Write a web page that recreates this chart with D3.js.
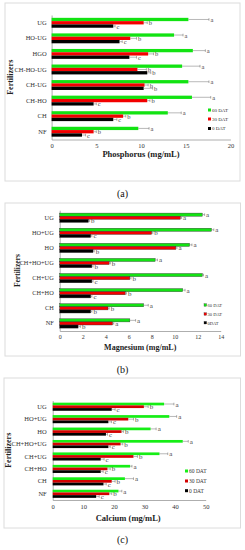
<!DOCTYPE html>
<html><head><meta charset="utf-8">
<script src="https://cdn.jsdelivr.net/npm/d3@7"></script>
<style>
body{margin:0;background:#fff;}
svg{display:block;}
text{font-family:"Liberation Serif","DejaVu Serif",serif;}
</style></head>
<body><svg id="c" width="245" height="550"></svg>
<script>
// ---------- DATA ----------
const categoriesA = ["NF","CH","CH-HO","CH-UG","CH-HO-UG","HGO","HO-UG","UG"];
const categoriesBC = ["NF","CH","CH+HO","CH+UG","CH+HO+UG","HO","HO+UG","UG"];
const legendA = ["60 DAT","30 DAT","0 DAT"];
const legendB = ["60 DAT","30 DAT","0DAT"];
const legendC = ["60 DAT","30 DAT","0 DAT"];

const phos60 = [9.7,13.0,15.7,15.3,14.6,15.8,13.7,15.3];
const phos60Err = [1.2,1.5,2.1,2.3,2.0,1.4,1.0,2.3];
const phos30 = [4.7,8.0,10.7,10.4,9.6,10.8,8.8,10.3];
const phos30Err = [0.3,0.3,0.3,0.4,1.0,0.6,0.7,0.4];
const phos0 = [3.4,6.9,4.7,10.3,10.7,8.7,7.6,6.9];
const phos0Err = [0.4,0.4,0.3,1.0,0.4,0.8,0.3,0.2];
const phosLetters60 = ["a","a","a","a","a","a","a","a"];
const phosLetters30 = ["b","b","b","b","b","b","b","b"];
const phosLetters0 = ["c","c","c","b","b","c","c","c"];
const phosTicks = [0,5,10,15,20];

const mg60 = [6.1,7.3,10.7,12.4,8.3,11.3,13.2,12.4];
const mg60Err = [0.5,0.4,0.2,0.1,0.2,0.2,0.2,0.2];
const mg30 = [4.6,4.2,5.7,6.1,4.3,10.1,8.0,10.5];
const mg30Err = [0.1,0.1,0.1,0.1,0.1,0.1,0.1,0.1];
const mg0 = [1.6,2.7,2.7,2.8,2.8,2.9,2.7,2.5];
const mg0Err = [0.2,0.1,0.1,0.1,0.1,0.1,0.1,0.1];
const mgLetters60 = ["a","a","a","a","a","a","a","a"];
const mgLetters30 = ["a","b","b","b","b","a","b","a"];
const mgLetters0 = ["b","b","c","c","b","b","c","b"];
const mgTicks = [0,2,4,6,8,10,12,14];

const ca60 = [21.5,23.6,25.3,34.9,42.5,32.0,38.1,36.4];
const ca60Err = [1.1,2.8,0.6,2.7,1.8,1.8,2.4,3.2];
const ca30 = [18.5,19.3,17.9,26.4,22.2,22.5,24.7,29.8];
const ca30Err = [0.8,1.1,0.9,1.3,0.7,0.6,1.7,1.4];
const ca0 = [14.2,16.6,15.7,15.7,18.2,17.4,18.2,19.3];
const ca0Err = [1.0,0.9,0.8,1.1,0.6,0.5,1.0,1.1];
const caLetters60 = ["a","a","a","a","a","a","a","a"];
const caLetters30 = ["b","b","b","b","b","b","b","b"];
const caLetters0 = ["c","c","c","c","c","c","c","c"];
const caTicks = [0,10,20,30,40,50];

const colors = ["#12e312","#f20000","#000000"];
const colorsC = ["#16ee16","#d40000","#000000"];

// ---------- DRAW ----------
const svg = d3.select("#c");

function panel(o){
  const g = svg.append("g");
  g.append("rect").attr("x",o.box[0]).attr("y",o.box[1]).attr("width",o.box[2]-o.box[0]).attr("height",o.box[3]-o.box[1])
    .attr("fill","#fff").attr("stroke","#dcdcdc").attr("stroke-width",1);
  const x = d3.scaleLinear().domain([0,o.max]).range([o.x0,o.x1]);
  const y = d3.scaleBand().domain(o.cats.slice().reverse()).range([o.yTop,o.yBot]);
  const inner = d3.scaleBand().domain([0,1,2]).range([y.bandwidth()/2 - o.barH*1.5, y.bandwidth()/2 + o.barH*1.5]);
  const series = [
    {v:o.s60,e:o.e60,l:o.l60},
    {v:o.s30,e:o.e30,l:o.l30},
    {v:o.s0,e:o.e0,l:o.l0}
  ];
  const xa = d3.axisBottom(x).tickValues(o.ticks).tickSize(0).tickPadding(4);
  const gx = g.append("g").attr("transform",`translate(0,${o.yBot})`).call(xa);
  gx.select(".domain").attr("stroke","#999").attr("stroke-width",0.8);
  gx.selectAll("text").attr("font-size",o.tickFs).attr("fill","#333").attr("font-family","Liberation Serif, serif");
  const ya = d3.axisLeft(y).tickSize(0).tickPadding(o.catPad);
  const gy = g.append("g").attr("transform",`translate(${o.x0},0)`).call(ya);
  gy.select(".domain").attr("stroke","#999").attr("stroke-width",0.8);
  gy.selectAll("text").attr("font-size",o.catFs).attr("fill","#333").attr("font-family","Liberation Serif, serif");
  series.forEach((s,si)=>{
    const sg = g.append("g");
    sg.selectAll("rect").data(o.cats).join("rect")
      .attr("x",x(0))
      .attr("y",(c)=>y(c)+inner(si))
      .attr("width",(c,i)=>x(s.v[i])-x(0))
      .attr("height",inner.bandwidth())
      .attr("fill",o.colors[si])
      .attr("stroke",o.stroke ? "#333" : "none")
      .attr("stroke-width",o.stroke?0.4:0);
    sg.selectAll("line.e").data(o.cats).join("line").attr("class","e")
      .attr("x1",(c,i)=>x(s.v[i])).attr("x2",(c,i)=>x(s.v[i]+s.e[i]))
      .attr("y1",(c)=>y(c)+inner(si)+inner.bandwidth()/2)
      .attr("y2",(c)=>y(c)+inner(si)+inner.bandwidth()/2)
      .attr("stroke","#888").attr("stroke-width",0.6);
    sg.selectAll("line.c").data(o.cats).join("line").attr("class","c")
      .attr("x1",(c,i)=>x(s.v[i]+s.e[i])).attr("x2",(c,i)=>x(s.v[i]+s.e[i]))
      .attr("y1",(c)=>y(c)+inner(si)+inner.bandwidth()/2-1.3)
      .attr("y2",(c)=>y(c)+inner(si)+inner.bandwidth()/2+1.3)
      .attr("stroke","#777").attr("stroke-width",0.6);
    sg.selectAll("text").data(o.cats).join("text")
      .attr("x",(c,i)=>x(s.v[i]+s.e[i])+1.5)
      .attr("y",(c)=>y(c)+inner(si)+inner.bandwidth()/2+2.5)
      .attr("font-size",o.letFs).attr("fill","#444")
      .text((c,i)=>s.l[i]);
  });
  g.append("text").attr("x",(o.x0+o.x1)/2 + (o.xtDx||0)).attr("y",o.xtY).attr("text-anchor","middle")
    .attr("font-size",o.titleFs).attr("font-weight","bold").attr("fill","#222").text(o.xTitle);
  g.append("text").attr("transform",`translate(${o.ytX},${(o.yTop+o.yBot)/2}) rotate(-90)`).attr("text-anchor","middle")
    .attr("font-size",o.titleFs-0.5).attr("font-weight","bold").attr("fill","#222").text("Fertilizers");
  const lg = g.append("g");
  o.legend.forEach((t,i)=>{
    lg.append("rect").attr("x",o.legX).attr("y",o.legY[i]-o.legSq/2).attr("width",o.legSq).attr("height",o.legSq)
      .attr("fill",o.colors[i]).attr("stroke",o.stroke?"#333":"none").attr("stroke-width",0.3);
    lg.append("text").attr("x",o.legX+o.legSq+1).attr("y",o.legY[i]+1.8).attr("font-size",o.legFs).attr("fill","#333").text(t);
  });
  svg.append("text").attr("x",122.5).attr("y",o.capY).attr("text-anchor","middle").attr("font-size",10)
    .attr("fill","#111").text(o.cap);
}

panel({box:[5,3,240,181], max:20, x0:51.6, x1:230.4, yTop:15, yBot:139.5, barH:3.3,
  cats:categoriesA, s60:phos60,e60:phos60Err,l60:phosLetters60, s30:phos30,e30:phos30Err,l30:phosLetters30,
  s0:phos0,e0:phos0Err,l0:phosLetters0, ticks:phosTicks, colors:colors, stroke:false,
  tickFs:6.5, catFs:6.5, catPad:5, letFs:6.5, titleFs:8.5, xTitle:"Phosphorus (mg/mL)", xtY:157, ytX:13,
  legend:legendA, legX:208, legY:[110,119,128.5], legSq:3, legFs:5, cap:"(a)", capY:197});

panel({box:[5,203,240.5,356], max:14, x0:59.7, x1:220.7, yTop:210.2, yBot:331, barH:3.1,
  cats:categoriesBC, s60:mg60,e60:mg60Err,l60:mgLetters60, s30:mg30,e30:mg30Err,l30:mgLetters30,
  s0:mg0,e0:mg0Err,l0:mgLetters0, ticks:mgTicks, colors:colors, stroke:true,
  tickFs:6, catFs:6.3, catPad:6, letFs:7, titleFs:8, xTitle:"Magnesium (mg/mL)", xtY:350, ytX:20,
  legend:legendB, legX:204, legY:[305,314,322.7], legSq:2.6, legFs:4.5, cap:"(b)", capY:373});

panel({box:[4,378,240.5,528], max:50, x0:52.7, x1:205.7, yTop:400.5, yBot:500, barH:2.7,
  cats:categoriesBC, s60:ca60,e60:ca60Err,l60:caLetters60, s30:ca30,e30:ca30Err,l30:caLetters30,
  s0:ca0,e0:ca0Err,l0:caLetters0, ticks:caTicks, colors:colorsC, stroke:false,
  tickFs:6.5, catFs:6.5, catPad:6, letFs:7, titleFs:8.5, xTitle:"Calcium (mg/mL)", xtDx:-1, xtY:521, ytX:11,
  legend:legendC, legX:185, legY:[471,481,490.7], legSq:3, legFs:5.5, cap:"(c)", capY:543});
</script></body></html>
